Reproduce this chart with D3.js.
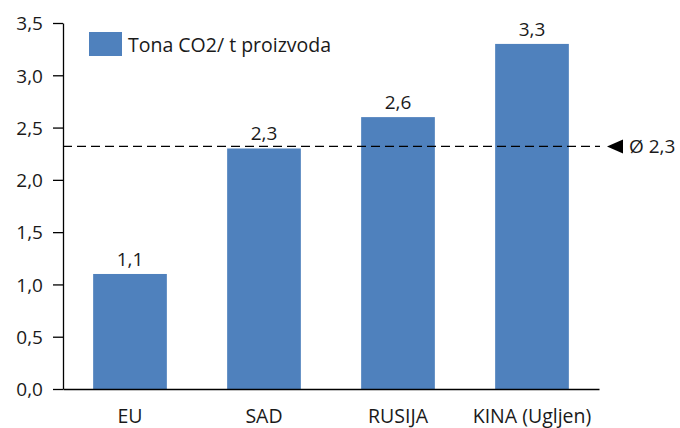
<!DOCTYPE html>
<html>
<head>
<meta charset="utf-8">
<script src="https://cdn.jsdelivr.net/npm/d3@7"></script>
<style>
body{margin:0;background:#fff;}
text{font-family:"Open Sans",sans-serif;fill:#1a1a1a;}
</style>
</head>
<body>
<svg id="chart" width="680" height="428"></svg>
<script>
// data
const categories=["EU","SAD","RUSIJA","KINA (Ugljen)"];
const values=[1.1,2.3,2.6,3.3];
const y_ticks=[0,0.5,1,1.5,2,2.5,3,3.5];
const average=2.32;
const average_label="Ø 2,3";
const legend_label="Tona CO2/ t proizvoda";

const svg=d3.select("#chart");
const margin={left:63,right:81,top:23,bottom:39};
const width=680-margin.left-margin.right;
const height=428-margin.top-margin.bottom;
const bar_color="#4f81bd";
const fmt=d=>d3.format(".1f")(d).replace(".",",");

const x=d3.scaleBand().domain(categories).range([0,width]).paddingInner(0.45).paddingOuter(0.225);
const y=d3.scaleLinear().domain([0,3.5]).range([height,0]);

const g=svg.append("g").attr("transform","translate("+margin.left+","+margin.top+")");

// bars
g.selectAll("rect.bar").data(values).enter().append("rect")
    .attr("class","bar")
    .attr("x",(d,i)=>x(categories[i]))
    .attr("y",d=>y(d))
    .attr("width",x.bandwidth())
    .attr("height",d=>height-y(d))
    .attr("fill",bar_color);

// value labels
g.selectAll("text.val").data(values).enter().append("text")
    .attr("class","val")
    .attr("x",(d,i)=>x(categories[i])+x.bandwidth()/2)
    .attr("y",d=>y(d)-8)
    .attr("text-anchor","middle")
    .style("font-size","19px")
    .text(d=>fmt(d));

// y axis
const y_axis=g.append("g")
    .call(d3.axisLeft(y).tickValues(y_ticks).tickFormat(fmt).tickSize(10).tickSizeOuter(0));
y_axis.select(".domain").attr("stroke","#000").attr("stroke-width",1.3);
y_axis.selectAll(".tick line").attr("stroke","#000").attr("stroke-width",1.3);
y_axis.selectAll(".tick text").attr("x",-20).attr("dy","0.36em").style("font-size","19px").style("font-family","Open Sans").attr("fill","#1a1a1a");

// x axis
const x_axis=g.append("g").attr("transform","translate(0,"+height+")")
    .call(d3.axisBottom(x).tickSize(0).tickSizeOuter(0));
x_axis.select(".domain").attr("stroke","#000").attr("stroke-width",1.3);
x_axis.selectAll(".tick text").attr("y",0).attr("dy","1.75em").style("font-size","19.5px").style("font-family","Open Sans").attr("fill","#1a1a1a");

// average line
g.append("line")
    .attr("x1",0).attr("x2",width+1)
    .attr("y1",y(average)).attr("y2",y(average))
    .attr("stroke","#000").attr("stroke-width",1.3)
    .attr("stroke-dasharray","9,5");
const ax=width+8, ay=y(average);
g.append("path")
    .attr("d","M"+ax+","+ay+"L"+(ax+16)+","+(ay-7)+"L"+(ax+16)+","+(ay+7)+"Z")
    .attr("fill","#000");
g.append("text")
    .attr("x",ax+22).attr("y",ay+7)
    .style("font-size","19px")
    .text(average_label);

// legend
svg.append("rect").attr("x",89).attr("y",32).attr("width",33).attr("height",24).attr("fill",bar_color);
svg.append("text").attr("x",128).attr("y",52).style("font-size","19.5px").text(legend_label);
</script>
</body>
</html>
